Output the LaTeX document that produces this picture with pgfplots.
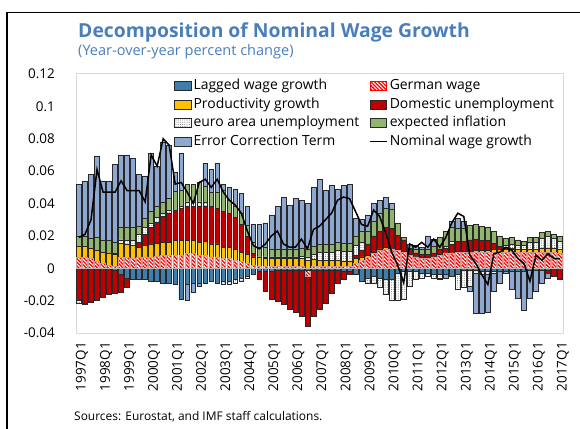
\documentclass[border=0pt]{standalone}
\usepackage{fontspec}
\setmainfont{Open Sans}
\usepackage{pgfplots}
\pgfplotsset{compat=1.18}
\usepackage{pgfplotstable}
\usetikzlibrary{patterns.meta,calc}

\definecolor{cLag}{RGB}{65,125,170}
\definecolor{cProd}{RGB}{255,192,0}
\definecolor{cDom}{RGB}{192,0,0}
\definecolor{cExp}{RGB}{145,180,110}
\definecolor{cECT}{RGB}{142,168,210}
\definecolor{cRed}{RGB}{255,0,0}
\definecolor{cTitle}{RGB}{74,126,187}
\definecolor{cEdge}{RGB}{40,40,40}
\definecolor{cGerEdge}{RGB}{215,150,150}

\tikzset{
 bL/.style={fill=cLag, draw=cEdge, line width=0.6bp},
 bG/.style={fill=white, draw=cGerEdge, line width=0.6bp, postaction={pattern={Lines[angle=-45,distance=2.6bp,line width=1.3bp]}, pattern color=cRed}},
 bGleg/.style={fill=white, draw=cRed, line width=0.6bp, postaction={pattern={Lines[angle=-45,distance=2.6bp,line width=1.3bp]}, pattern color=cRed}},
 bP/.style={fill=cProd, draw=cEdge, line width=0.6bp},
 bD/.style={fill=cDom, draw=cEdge, line width=0.6bp},
 bE/.style={fill=white, draw=cEdge, line width=0.6bp, postaction={pattern={Dots[distance=2.2bp,radius=0.55bp]}, pattern color=gray}},
 bX/.style={fill=cExp, draw=cEdge, line width=0.6bp},
 bC/.style={fill=cECT, draw=cEdge, line width=0.6bp},
}

\pgfplotstableread{
q L G P D E X C W
0 0 0.0065 0.007 -0.02 -0.0015 0.006 0.0325 0.019
1 0 0.007 0.0065 -0.0215 -0.0005 0.0065 0.0335 0.021
2 0 0.006 0.0065 -0.021 0 0.006 0.0395 0.030
3 0 0.0045 0.0065 -0.020 0 0.008 0.050 0.061
4 0 0.003 0.007 -0.018 0 0.0075 0.0365 0.047
5 0 0.002 0.0075 -0.016 0 0.0075 0.037 0.047
6 -0.001 0.0015 0.007 -0.0145 0.0005 0.007 0.048 0.047
7 -0.004 0.007 0.0085 -0.011 0.002 0.0075 0.045 0.054
8 -0.006 0.0065 0.0085 -0.006 0.002 0.008 0.045 0.048
9 -0.007 0.006 0.008 0 0.003 0.008 0.043 0.048
10 -0.007 0.007 0.006 0.003 0.005 0.005 0.032 0.048
11 -0.007 0.007 0.007 0.007 0.004 0.006 0.026 0.041
12 -0.008 0.007 0.008 0.010 0.003 0.007 0.036 0.070
13 -0.008 0.0075 0.008 0.013 0.003 0.007 0.0245 0.063
14 -0.009 0.008 0.008 0.016 0.002 0.007 0.037 0.080
15 -0.009 0.008 0.008 0.018 0.002 0.007 0.033 0.076
16 -0.010 0.008 0.009 0.0185 0 0.012 0.0115 0.052
17 -0.019 0.008 0.009 0.020 0.001 0.010 0.023 0.053
18 -0.010 0.009 0.008 0.021 0.003 0.011 -0.010 0.047
19 -0.009 0.009 0.008 0.021 0.003 0.011 -0.006 0.040
20 -0.009 0.008 0.008 0.022 0.003 0.012 -0.002 0.053
21 -0.009 0.008 0.0085 0.022 0.002 0.010 0.0145 0.055
22 -0.008 0.007 0.008 0.023 0 0.009 0.014 0.050
23 -0.009 0.007 0.008 0.022 0 0.010 0.018 0.055
24 -0.008 0.006 0.007 0.022 -0.002 0.013 0.004 0.047
25 -0.008 0.006 0.007 0.021 -0.002 0.008 0.008 0.042
26 -0.007 0.005 0.0065 0.020 -0.002 0.007 0.0105 0.039
27 -0.006 0.004 0.006 0.017 -0.002 0.007 0.012 0.034
28 -0.005 0.003 0.0055 0.011 -0.001 0.007 0.0115 0.023
29 -0.004 0.002 0.005 0.002 0 0.007 0.011 0.014
30 -0.002 0.0015 0.005 -0.005 0.0005 0.006 0.014 0.012
31 -0.002 0.001 0.005 -0.012 0.001 0.006 0.015 0.015
32 -0.002 0.001 0.005 -0.017 0.001 0.005 0.021 0.020
33 -0.0015 0.001 0.005 -0.019 0.001 0.005 0.026 0.023
34 -0.0015 0.001 0.005 -0.021 0.001 0.005 0.032 0.015
35 -0.0015 0.001 0.005 -0.024 0.001 0.005 0.027 0.013
36 -0.0015 0.001 0.005 -0.026 0.001 0.005 0.031 0.013
37 -0.0015 0.001 0.005 -0.028 0.0015 0.005 0.0295 0.018
38 -0.001 -0.004 0.005 -0.031 0.002 0.005 0.028 0.012
39 -0.0015 0.001 0.0045 -0.028 0.003 0.005 0.0365 0.024
40 -0.0015 0.001 0.004 -0.024 0.005 0.0045 0.0405 0.026
41 -0.0015 0.001 0.004 -0.020 0.005 0.0045 0.0335 0.030
42 -0.0015 0.001 0.004 -0.014 0.005 0.0045 0.0365 0.034
43 -0.0015 0.001 0.004 -0.008 0.006 0.005 0.033 0.042
44 -0.002 0.001 0.0035 -0.005 0.006 0.005 0.0355 0.044
45 -0.002 0.0015 0.003 -0.002 0.006 0.005 0.0365 0.043
46 -0.004 0.003 0.003 0.002 0.006 0.006 0.011 0.035
47 -0.008 0.005 0.002 0.004 0.005 0.007 0.007 0.027
48 -0.006 0.007 0.001 0.007 -0.003 0.008 0.010 0.026
49 -0.005 0.009 0.001 0.010 -0.004 0.009 0.011 0.036
50 -0.006 0.011 0.001 0.011 -0.006 0.011 0.008 0.032
51 -0.007 0.012 0.001 0.012 -0.009 0.012 0.007 0.022
52 -0.007 0.012 0.0005 0.012 -0.013 0.012 0.0035 0.010
53 -0.003 0.011 0.0005 0.009 -0.017 0.0075 0 0.002
54 -0.002 0.010 0.0005 0.007 -0.017 0.0015 0 -0.009
55 -0.002 0.008 0.0005 0.003 -0.009 0.001 0.0025 0.015
56 -0.002 0.007 0.0005 0.002 -0.005 0.002 0.0025 0.013
57 -0.003 0.006 0.0005 0.002 -0.003 0.003 0.0015 0.016
58 -0.003 0.006 0.0005 0.002 -0.002 0.003 0.0085 0.013
59 -0.004 0.007 0.0005 0.002 -0.002 0.004 0.0045 0.018
60 -0.004 0.008 0.0005 0.003 -0.002 0.0075 -0.001 0.013
61 -0.004 0.009 0.0005 0.003 0.001 0.0095 -0.002 0.019
62 -0.005 0.009 0.0005 0.005 0.002 0.009 0.0035 0.028
63 -0.004 0.010 0.0005 0.006 -0.009 0.008 0.0065 0.034
64 -0.001 0.010 0.0005 0.006 -0.011 0.008 0.0045 0.032
65 -0.001 0.010 0.0005 0.007 -0.010 0.009 -0.003 0.008
66 -0.001 0.010 0.001 0.007 -0.002 0.009 -0.025 0.003
67 -0.002 0.010 0.001 0.006 -0.002 0.009 -0.024 -0.004
68 -0.002 0.010 0.001 0.006 -0.002 0.0085 -0.023 -0.010
69 -0.002 0.010 0.0015 0.004 -0.001 0.0075 -0.011 0.009
70 -0.002 0.010 0.0015 0.002 0 0.0065 -0.007 0.010
71 -0.002 0.010 0.002 0.001 0.001 0.0045 -0.001 0.013
72 -0.002 0.010 0.002 0.0005 0.002 0.0045 -0.011 0.011
73 -0.002 0.010 0.002 0 0.002 0.0035 -0.0165 0.006
74 -0.002 0.010 0.002 0 0.002 0.0025 -0.024 0.003
75 -0.001 0.010 0.002 0 0.004 0.003 -0.0175 -0.008
76 -0.001 0.010 0.002 0 0.004 0.003 -0.013 0.008
77 -0.001 0.010 0.0025 0 0.006 0.0035 -0.008 0.005
78 -0.001 0.010 0.0025 -0.002 0.007 0.0035 -0.003 0.009
79 0 0.010 0.0025 -0.005 0.006 0.0025 0 0.006
80 0 0.009 0.0025 -0.007 0.005 0.003 0 0.006
}\data

\pgfplotsset{
 base/.style={
  at={(76,95)}, anchor=south west, scale only axis,
  width=487bp, height=259bp,
  xmin=-0.5, xmax=80.5, ymin=-0.04, ymax=0.12,
  enlargelimits=false,
 },
 my bar legend/.style={legend image code/.code={\draw[##1] (0bp,-4.5bp) rectangle (16.7bp,4.5bp); \path (19bp,0bp);}},
 my line legend/.style={legend image code/.code={\draw[##1] (0bp,0bp) -- (16.7bp,0bp); \path (19bp,0bp);}},
}

\begin{document}
\begin{tikzpicture}[x=1bp,y=1bp]

% positive parts
\begin{axis}[base, ybar stacked, bar width=0.8,
  axis line style={draw=black!15, line width=1bp},
  xtick={0,4,...,80},
  xticklabels={1997Q1,1998Q1,1999Q1,2000Q1,2001Q1,2002Q1,2003Q1,2004Q1,2005Q1,2006Q1,2007Q1,2008Q1,2009Q1,2010Q1,2011Q1,2012Q1,2013Q1,2014Q1,2015Q1,2016Q1,2017Q1},
  ytick={-0.04,-0.02,0,0.02,0.04,0.06,0.08,0.1,0.12},
  yticklabels={-0.04,-0.02,0,0.02,0.04,0.06,0.08,0.1,0.12},
  major tick length=0pt,
  tick label style={font=\fontsize{13.5}{16}\selectfont},
  xticklabel style={xshift=3bp, yshift=-9bp, rotate=90, anchor=east, inner sep=0pt},
  yticklabel style={anchor=east, inner sep=0pt, xshift=-21bp},
]
\coordinate (O) at (rel axis cs:0,0);
\addplot[bL] table[x=q, y expr={max(\thisrow{L},0)}]{\data};
\addplot[bG] table[x=q, y expr={max(\thisrow{G},0)}]{\data};
\addplot[bP] table[x=q, y expr={max(\thisrow{P},0)}]{\data};
\addplot[bD] table[x=q, y expr={max(\thisrow{D},0)}]{\data};
\addplot[bE] table[x=q, y expr={max(\thisrow{E},0)}]{\data};
\addplot[bX] table[x=q, y expr={max(\thisrow{X},0)}]{\data};
\addplot[bC] table[x=q, y expr={max(\thisrow{C},0)}]{\data};
\end{axis}

% negative parts
\begin{axis}[base, ybar stacked, bar width=0.8, hide axis]
\addplot[bL] table[x=q, y expr={min(\thisrow{L},0)}]{\data};
\addplot[bG] table[x=q, y expr={min(\thisrow{G},0)}]{\data};
\addplot[bP] table[x=q, y expr={min(\thisrow{P},0)}]{\data};
\addplot[bD] table[x=q, y expr={min(\thisrow{D},0)}]{\data};
\addplot[bE] table[x=q, y expr={min(\thisrow{E},0)}]{\data};
\addplot[bX] table[x=q, y expr={min(\thisrow{X},0)}]{\data};
\addplot[bC] table[x=q, y expr={min(\thisrow{C},0)}]{\data};
\end{axis}

% line, zero line and legend
\begin{axis}[base, hide axis,
  legend columns=2,
  legend cell align=left,
  legend style={at={(0.2012,0.9816)}, anchor=north west, draw=none, fill=none,
    inner sep=0pt, outer sep=0pt, font=\fontsize{14}{16}\selectfont,
    row sep=4.0bp,
    nodes={inner sep=0pt, text height=11bp, text depth=3.5bp},
    /tikz/every even column/.append style={column sep=10bp}},
  legend entries={Lagged wage growth, German wage, Productivity growth, Domestic unemployment, euro area unemployment, expected inflation, Error Correction Term, Nominal wage growth},
]
\addlegendimage{my bar legend, bL}
\addlegendimage{my bar legend, bGleg}
\addlegendimage{my bar legend, bP}
\addlegendimage{my bar legend, bD}
\addlegendimage{my bar legend, bE}
\addlegendimage{my bar legend, bX}
\addlegendimage{my bar legend, bC}
\addlegendimage{my line legend, black, line width=1.5bp}
\draw[gray!55, line width=1.3bp] (axis cs:-0.5,0) -- (axis cs:80.5,0);
\addplot[black, line width=1.5bp, mark=none, forget plot] table[x=q, y=W]{\data};
\end{axis}

\pgfresetboundingbox
\begin{scope}[shift={($(O)+(-76,-95)$)}]
\path[use as bounding box] (0,0) rectangle (580,428);
\draw[black, line width=1.8bp] (7,-5) -- (7,415.5) -- (590,415.5);
\node[anchor=base west, inner sep=0pt, text=cTitle, font=\bfseries\fontsize{19.4}{22}\selectfont] at (78,390) {Decomposition of Nominal Wage Growth};
\node[anchor=base west, inner sep=0pt, text=cTitle, font=\fontsize{14.6}{17}\selectfont] at (78,372) {(Year-over-year percent change)};
\node[anchor=base west, inner sep=0pt, font=\fontsize{12}{14}\selectfont] at (74,8) {Sources: Eurostat, and IMF staff calculations.};
\end{scope}
\end{tikzpicture}
\end{document}
